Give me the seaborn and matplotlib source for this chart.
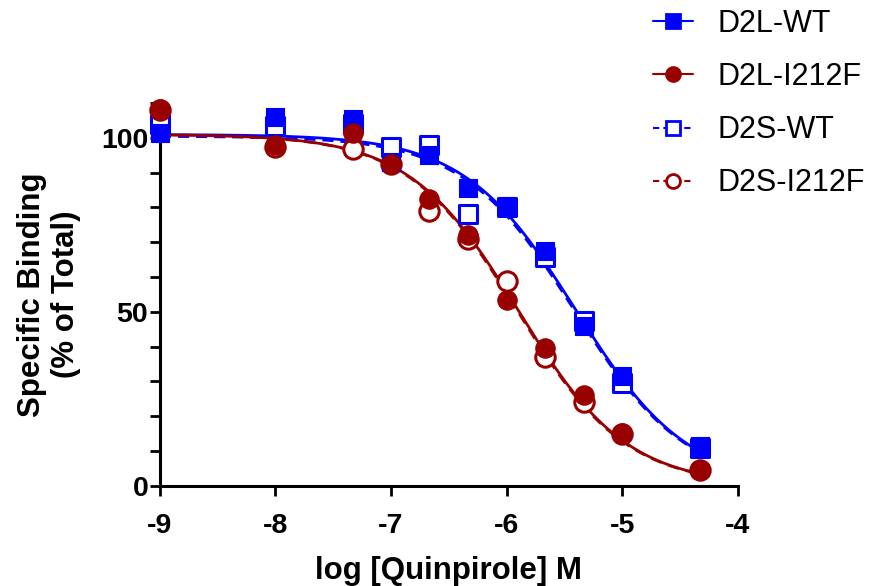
import numpy as np
import pandas as pd
import matplotlib.pyplot as plt
import seaborn as sns
from matplotlib.lines import Line2D
from matplotlib.ticker import MultipleLocator

sns.set_style("ticks")
plt.rcParams["font.family"] = ["Liberation Sans", "DejaVu Sans"]
plt.rcParams["axes.unicode_minus"] = False
for k in ["text.color", "axes.labelcolor", "xtick.color", "ytick.color", "axes.edgecolor"]:
    plt.rcParams[k] = "black"

# log concentración de quinpirol (M)
log_conc = [-9, -8, -7.33, -7, -6.67, -6.33, -6, -5.67, -5.33, -5, -4.33]

# % de unión específica
d2l_wt = [101.5, 106, 105.5, 93, 95, 85.5, 80.5, 67.5, 46, 31.5, 11.5]
d2l_i212f = [108.3, 98, 101.4, 92.5, 82.5, 72.2, 53.3, 39.5, 26, 15.2, 4.6]
d2s_wt = [104, 103.5, 104, 97.5, 98, 78.2, 80, 65.8, 47.5, 29.5, 11]
d2s_i212f = [108, 97.5, 96.8, 92.5, 79, 71, 59, 37, 24, 15, 4.5]

series_names = ["D2L-WT", "D2L-I212F", "D2S-WT", "D2S-I212F"]

# parámetros del ajuste (top, bottom, logIC50, pendiente)
fit_top = [101, 101, 100.5, 101]
fit_bottom = [0, 0, 0, 0]
fit_logic50 = [-5.40, -5.90, -5.41, -5.91]
fit_hill = [0.90, 0.92, 0.90, 0.92]

BLUE = "#0000FF"
RED = "#990000"
colors = [BLUE, RED, BLUE, RED]
markers = ["s", "o", "s", "o"]
filled = [True, True, False, False]
dashes = [False, False, True, True]

df = pd.DataFrame({
    "log_conc": log_conc * 4,
    "binding": d2l_wt + d2l_i212f + d2s_wt + d2s_i212f,
    "serie": np.repeat(series_names, len(log_conc)),
})

# curvas ajustadas
x_fit = np.linspace(min(log_conc), max(log_conc), 300)
curvas = []
for i, name in enumerate(series_names):
    y = fit_bottom[i] + (fit_top[i] - fit_bottom[i]) / (1 + 10 ** ((x_fit - fit_logic50[i]) * fit_hill[i]))
    curvas.append(pd.DataFrame({"log_conc": x_fit, "binding": y, "serie": name}))
df_fit = pd.concat(curvas)

fig = plt.figure(figsize=(8.74, 5.86), dpi=100)
ax = fig.add_axes([0.183, 0.171, 0.661, 0.653])

for i, name in enumerate(series_names):
    sub = df_fit[df_fit["serie"] == name]
    sns.lineplot(data=sub, x="log_conc", y="binding", ax=ax, color=colors[i], lw=2,
                 linestyle=(0, (4, 2.5)) if dashes[i] else "-", zorder=2)

# primero los símbolos abiertos, encima los rellenos
for z, i in enumerate([2, 3, 0, 1]):
    sub = df[df["serie"] == series_names[i]]
    sns.scatterplot(data=sub, x="log_conc", y="binding", ax=ax, marker=markers[i],
                    s=165 if markers[i] == "s" else 195,
                    color=colors[i] if filled[i] else "white",
                    edgecolor=colors[i], linewidth=2.2 if not filled[i] else 0.8,
                    zorder=4 + z, clip_on=False, legend=False)

ax.set_xlim(-9, -4)
ax.set_ylim(0, 110)
ax.set_xticks([-9, -8, -7, -6, -5, -4])
ax.set_yticks([0, 50, 100])
ax.yaxis.set_minor_locator(MultipleLocator(10))
ax.tick_params(axis="both", which="both", width=2, length=7.5, direction="out")
ax.tick_params(axis="x", labelsize=20.5, pad=12)
ax.tick_params(axis="y", labelsize=20.5, pad=1)
for lab in ax.get_xticklabels() + ax.get_yticklabels():
    lab.set_fontweight("bold")
for s in ["top", "right"]:
    ax.spines[s].set_visible(False)
for s in ["left", "bottom"]:
    ax.spines[s].set_linewidth(2.2)
    ax.spines[s].set_zorder(1)

ax.set_xlabel("log [Quinpirole] M", fontsize=22.5, fontweight="bold", labelpad=12)
ax.set_ylabel("Specific Binding\n(% of Total)", fontsize=22.5, fontweight="bold", labelpad=14)

handles = []
for i, name in enumerate(series_names):
    handles.append(Line2D([0], [0], color=colors[i], lw=1.5,
                          linestyle=(0, (3, 2)) if dashes[i] else "-",
                          marker=markers[i], markersize=10,
                          markerfacecolor=colors[i] if filled[i] else "white",
                          markeredgecolor=colors[i], markeredgewidth=2))
fig.legend(handles, series_names, loc="upper left", bbox_to_anchor=(0.747, 0.985),
           frameon=False, fontsize=22, handlelength=1.3, handletextpad=0.8,
           labelspacing=0.76, borderaxespad=0.0, borderpad=0.0)

plt.savefig("out.png", dpi=100)
